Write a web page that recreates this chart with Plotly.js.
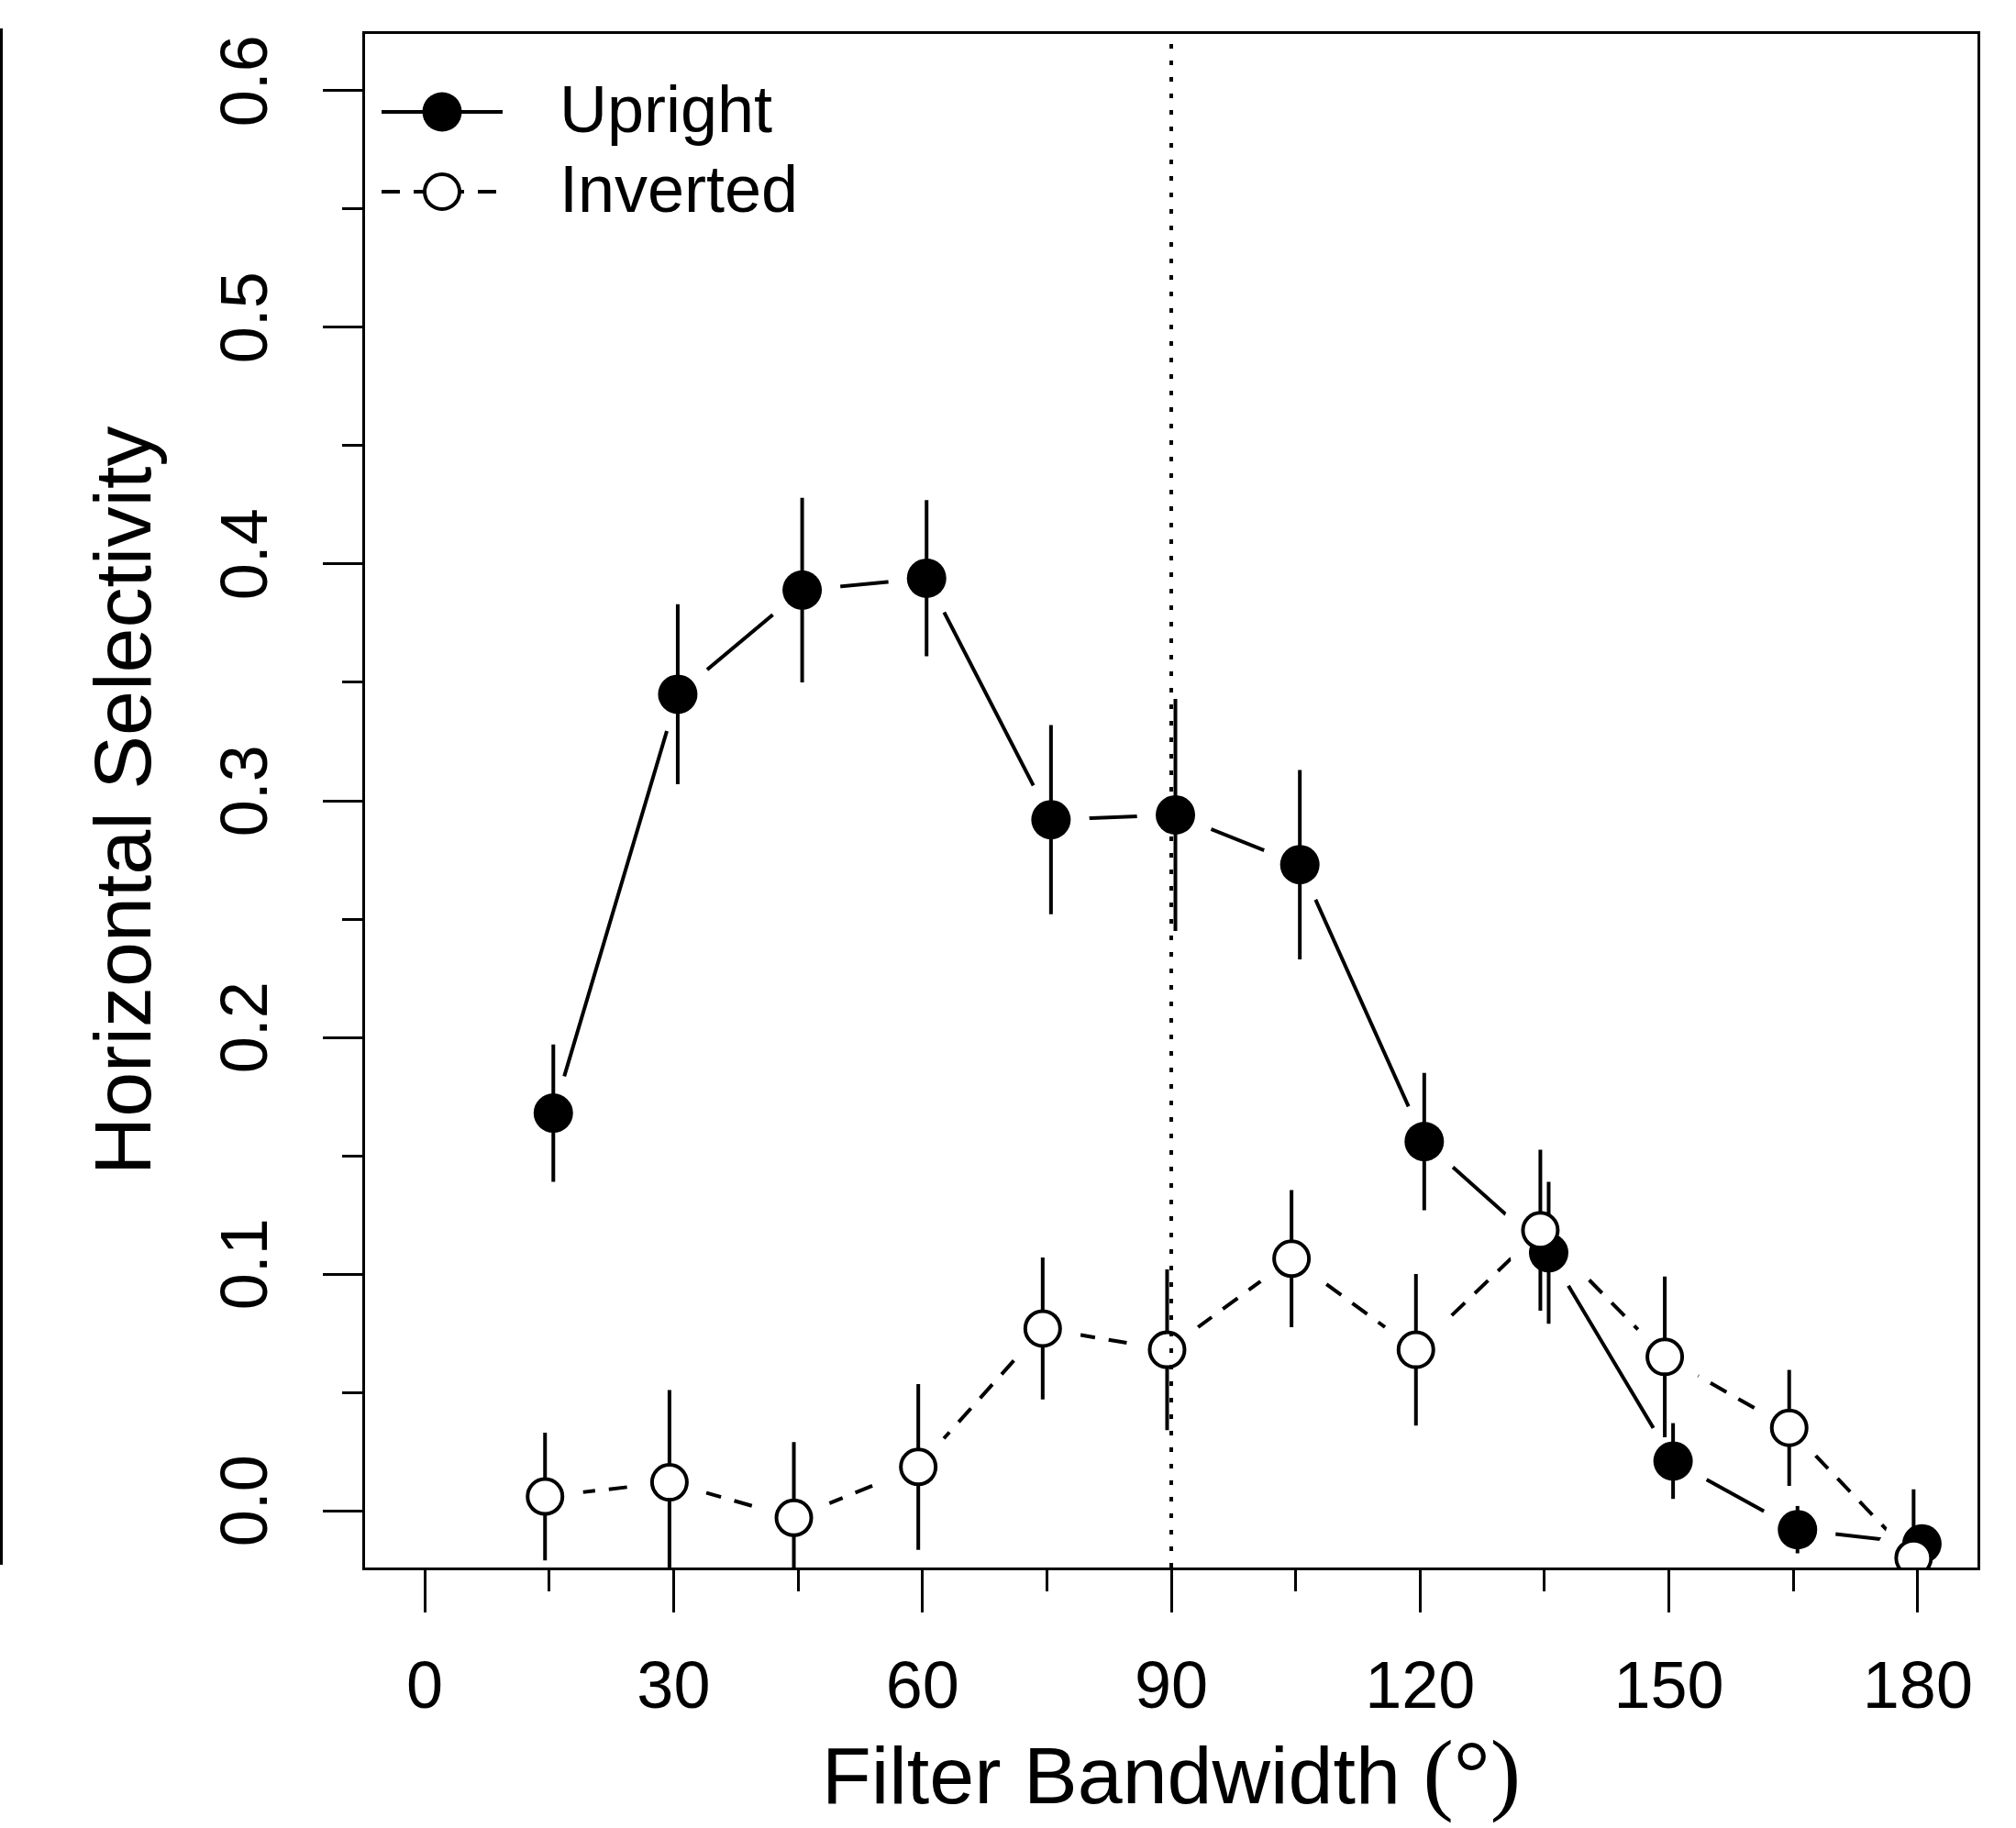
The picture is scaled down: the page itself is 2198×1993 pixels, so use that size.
<!DOCTYPE html>
<html><head><meta charset="utf-8">
<script src="https://cdn.plot.ly/plotly-3.0.1.min.js"></script>
<style>html,body{margin:0;padding:0;background:#fff}</style>
</head><body>
<div id="chart" style="width:2198px;height:1993px"></div>
<script>
// ---- data ----
const bandwidth = [15, 30, 45, 60, 75, 90, 105, 120, 135, 150, 165, 180];
const uprightMean = [0.168, 0.345, 0.389, 0.394, 0.292, 0.294, 0.273, 0.156, 0.109, 0.021, -0.008, -0.014];
const uprightSE   = [0.029, 0.038, 0.039, 0.033, 0.040, 0.049, 0.040, 0.029, 0.030, 0.016, 0.010, 0.008];
const invertedMean = [0.006, 0.012, -0.003, 0.0185, 0.077, 0.068, 0.1065, 0.068, 0.1185, 0.065, 0.035, -0.020];
const invertedSE   = [0.027, 0.039, 0.032, 0.035, 0.030, 0.034, 0.029, 0.032, 0.034, 0.034, 0.0245, 0.029];
const seriesNames = ['Upright', 'Inverted'];
const xTickVals = [0, 30, 60, 90, 120, 150, 180];
const xTickText = ['0', '30', '60', '90', '120', '150', '180'];
const yTickVals = [0, 0.1, 0.2, 0.3, 0.4, 0.5, 0.6];
const yTickText = ['0.0', '0.1', '0.2', '0.3', '0.4', '0.5', '0.6'];
const refLineX = 90;
const jitter = 0.5;

// ---- geometry ----
const W = 2198, H = 1993;
const M = {l: 398, r: 42, t: 37, b: 284};
const PW = W - M.l - M.r, PH = H - M.t - M.b;
const px = v => (v - M.l) / PW;
const py = v => 1 - (v - M.t) / PH;

const FONT = '"Liberation Sans", Arial, Helvetica, sans-serif';
const xU = bandwidth.map(b => b + jitter);
const xI = bandwidth.map(b => b - jitter);

const traces = [
  {x: xU, y: uprightMean, mode: 'lines', line: {color: 'black', width: 4}, hoverinfo: 'skip', name: seriesNames[0]},
  {x: xI, y: invertedMean, mode: 'lines', line: {color: 'black', width: 4, dash: '20px,15px'}, hoverinfo: 'skip', name: seriesNames[1]},
  {x: xU.concat(xI), y: uprightMean.concat(invertedMean), mode: 'markers',
   marker: {size: 84, color: 'white', line: {width: 0}}, hoverinfo: 'skip'},
  {x: xU, y: uprightMean, mode: 'markers', name: seriesNames[0],
   marker: {symbol: 'circle', size: 43, color: 'black', line: {width: 0}},
   error_y: {type: 'data', array: uprightSE, visible: true, color: 'black', thickness: 4, width: 0}},
  {x: xI, y: invertedMean, mode: 'markers', name: seriesNames[1],
   marker: {symbol: 'circle', size: 38, color: 'white', line: {color: 'black', width: 4}},
   error_y: {type: 'data', array: invertedSE, visible: true, color: 'black', thickness: 4, width: 0}}
];

const legRows = [122, 209];
const shapes = [
  {type: 'line', xref: 'x', yref: 'paper', x0: refLineX, x1: refLineX, y0: 0, y1: 1,
   line: {color: 'black', width: 4, dash: '5px,13px'}, layer: 'above'},
  {type: 'line', xref: 'paper', yref: 'paper', x0: px(1.5), x1: px(1.5), y0: py(31), y1: py(1706),
   line: {color: 'black', width: 3}},
  // legend
  {type: 'line', xref: 'paper', yref: 'paper', x0: px(416), x1: px(548), y0: py(legRows[0]), y1: py(legRows[0]),
   line: {color: 'black', width: 4}},
  {type: 'circle', xref: 'paper', yref: 'paper', xsizemode: 'pixel', ysizemode: 'pixel',
   xanchor: px(482), yanchor: py(legRows[0]), x0: -21.5, x1: 21.5, y0: -21.5, y1: 21.5,
   fillcolor: 'black', line: {width: 0}},
  {type: 'line', xref: 'paper', yref: 'paper', x0: px(416), x1: px(548), y0: py(legRows[1]), y1: py(legRows[1]),
   line: {color: 'black', width: 4, dash: '20px,15px'}},
  {type: 'circle', xref: 'paper', yref: 'paper', xsizemode: 'pixel', ysizemode: 'pixel',
   xanchor: px(482), yanchor: py(legRows[1]), x0: -19, x1: 19, y0: -19, y1: 19,
   fillcolor: 'white', line: {color: 'black', width: 4}}
];

const annotations = seriesNames.map((n, i) => ({
  text: n, xref: 'paper', yref: 'paper', x: px(608), y: py(legRows[i] - 3),
  xanchor: 'left', yanchor: 'middle', showarrow: false,
  font: {family: FONT, size: 72, color: 'black'}
}));

const axisCommon = {
  showline: true, linewidth: 3, linecolor: 'black', mirror: true,
  showgrid: false, zeroline: false, ticks: 'outside', tickwidth: 3, tickcolor: 'black',
  tickfont: {family: FONT, size: 72, color: 'black'}, fixedrange: true
};

const layout = {
  width: W, height: H, margin: M,
  paper_bgcolor: 'white', plot_bgcolor: 'white', showlegend: false,
  xaxis: Object.assign({}, axisCommon, {
    range: [-7.2, 187.2], tickmode: 'array', tickvals: xTickVals, ticktext: xTickText, ticklen: 46,
    ticklabelstandoff: 18,
    minor: {tick0: 0, dtick: 15, ticks: 'outside', ticklen: 23, tickwidth: 3, tickcolor: 'black', showgrid: false},
    title: {text: 'Filter Bandwidth <span style="font-family:serif;font-size:100px">(°)</span>',
            font: {family: FONT, size: 88, color: 'black'}, standoff: 23}
  }),
  yaxis: Object.assign({}, axisCommon, {
    range: [-0.024, 0.624], tickmode: 'array', tickvals: yTickVals, ticktext: yTickText, ticklen: 43, tickangle: -90,
    ticklabelstandoff: 32,
    minor: {tick0: 0, dtick: 0.05, ticks: 'outside', ticklen: 22, tickwidth: 3, tickcolor: 'black', showgrid: false},
    title: {text: 'Horizontal Selectivity', font: {family: FONT, size: 88, color: 'black'}, standoff: 33}
  }),
  shapes: shapes, annotations: annotations
};

Plotly.newPlot('chart', traces, layout, {staticPlot: true, displayModeBar: false});
</script>
</body></html>
